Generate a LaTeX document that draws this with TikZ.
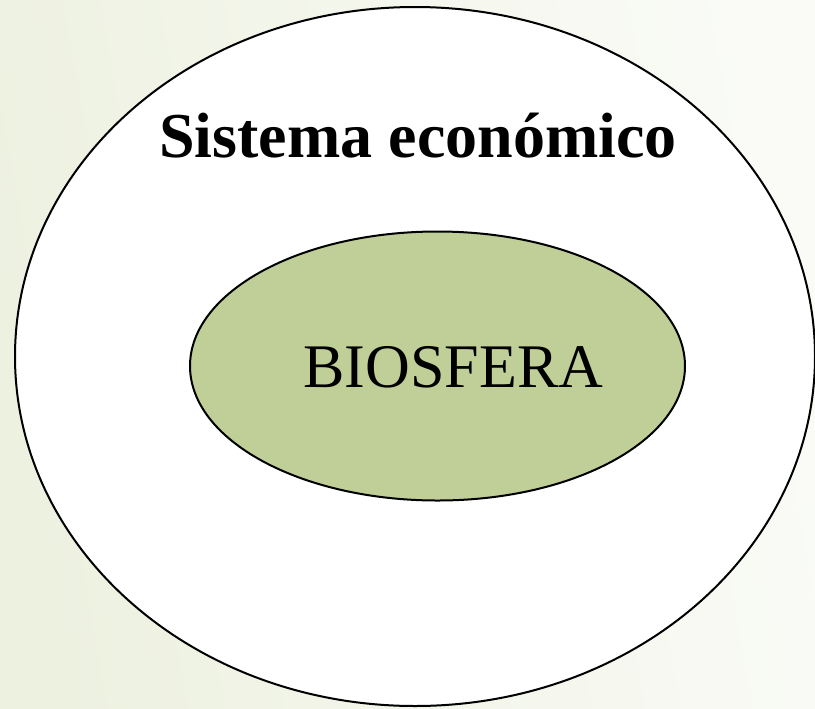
\documentclass[tikz,border=0pt]{standalone}
\usepackage{fontspec}
\setmainfont{Liberation Serif}
\usetikzlibrary{shapes.geometric}
\definecolor{bgleft}{RGB}{237,241,224}
\definecolor{bgright}{RGB}{250,251,247}
\definecolor{bioGreen}{RGB}{192,207,151}
\tikzset{
  ring/.style={ellipse, draw=black, line width=1.5pt, inner sep=0pt},
}
\begin{document}
\begin{tikzpicture}[x=0.75pt,y=-0.75pt]
\useasboundingbox (0,0) rectangle (815,708);
\shade[left color=bgleft, right color=bgright, shading angle=100] (0,0) rectangle (815,708);
\node[ring, fill=white, minimum width=600pt, minimum height=524.25pt] (eco) at (415,356.5) {};
\node[ring, fill=bioGreen, minimum width=371.25pt, minimum height=201.75pt] (bio) at (437.5,366) {};
\node[anchor=base, inner sep=0pt, font=\fontsize{48pt}{52pt}\selectfont\bfseries] (ecolabel) at (418,157) {Sistema económico};
\node[anchor=base, inner sep=0pt, font=\fontsize{46.5pt}{50pt}\selectfont] (biolabel) at (453.5,387) {BIOSFERA};
\end{tikzpicture}
\end{document}
